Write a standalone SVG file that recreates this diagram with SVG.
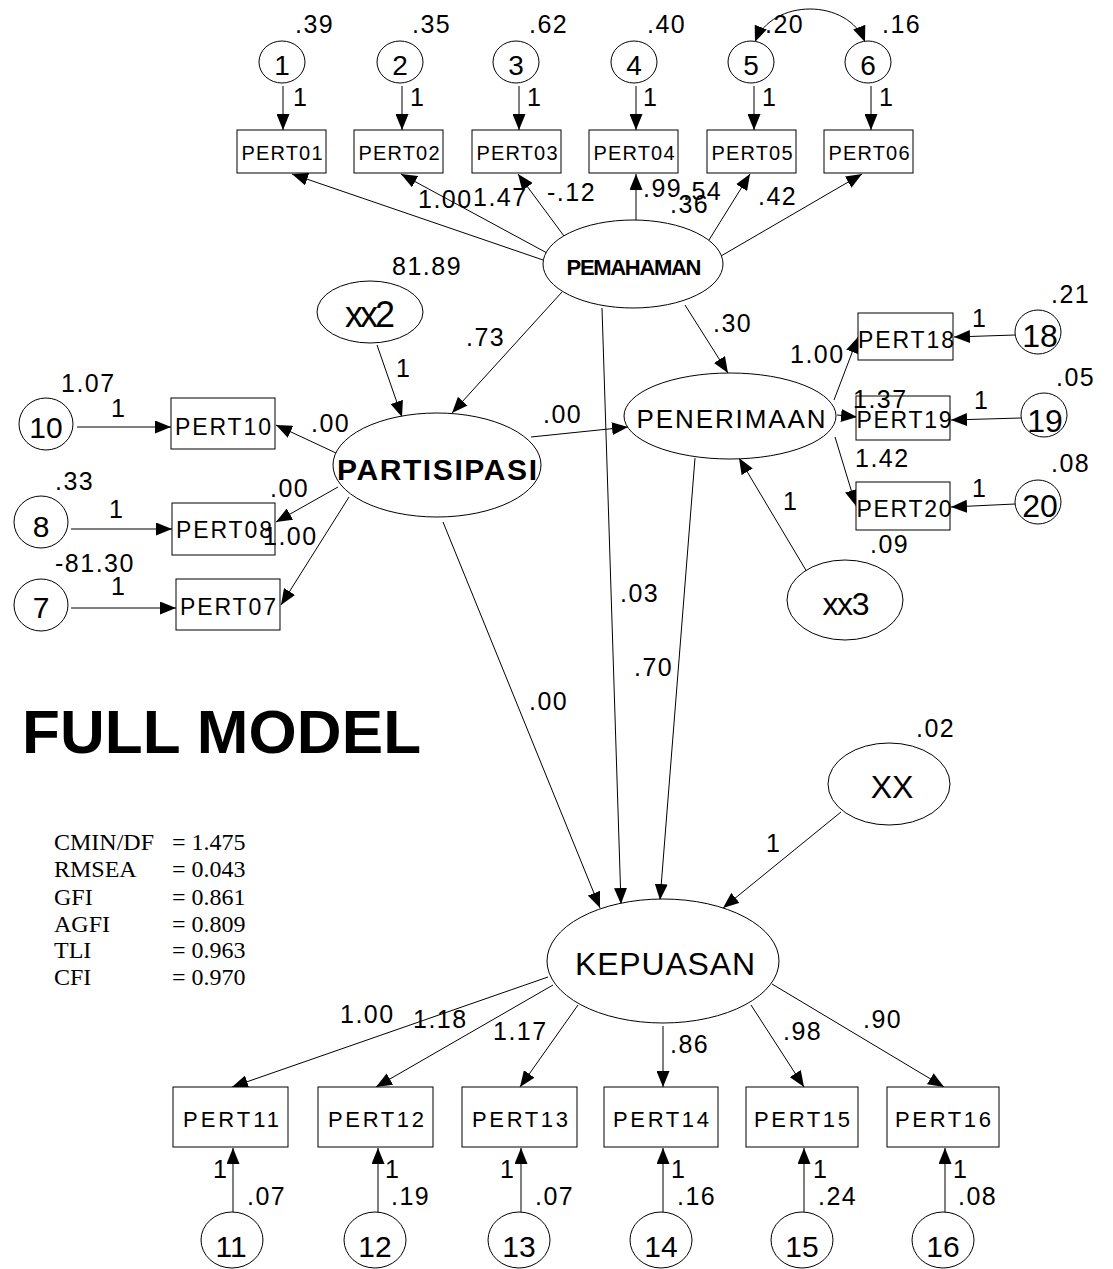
<svg xmlns="http://www.w3.org/2000/svg" width="1113" height="1269" viewBox="0 0 1113 1269">
<defs>
<marker id="ah" markerWidth="16" markerHeight="13" refX="16" refY="6.5" orient="auto" markerUnits="userSpaceOnUse"><path d="M0,0 L16,6.5 L0,13 z" fill="#000"/></marker>
<marker id="ahs" markerWidth="16" markerHeight="13" refX="16" refY="6.5" orient="auto-start-reverse" markerUnits="userSpaceOnUse"><path d="M0,0 L16,6.5 L0,13 z" fill="#000"/></marker>
<style>
.ln{stroke:#000;stroke-width:1;fill:none;marker-end:url(#ah)}
.nd{fill:#fff;stroke:#000;stroke-width:1}
text{font-family:"Liberation Sans",Arial,sans-serif;fill:#000}
.lb{font-size:25px;letter-spacing:1.5px}
.c28{font-size:28px;text-anchor:middle}
.c30{font-size:30px;text-anchor:middle}
.c32{font-size:32px;text-anchor:middle}
.bx20{font-size:20px;text-anchor:middle}
.bx22{font-size:22px;text-anchor:middle}
.bx23{font-size:23px;text-anchor:middle}
.fit{font-family:"Liberation Serif","Times New Roman",serif;font-size:24px}
</style>
</defs>
<rect width="1113" height="1269" fill="#fff"/>

<g id="connectors">
<!-- error terms to top indicators -->
<line class="ln" x1="283" y1="86" x2="283" y2="130"/>
<line class="ln" x1="402" y1="86" x2="402" y2="130"/>
<line class="ln" x1="519" y1="86" x2="519" y2="130"/>
<line class="ln" x1="636" y1="86" x2="636" y2="130"/>
<line class="ln" x1="754" y1="86" x2="754" y2="130"/>
<line class="ln" x1="871" y1="86" x2="871" y2="130"/>
<path d="M755,42 C772,-2 848,-2 865,42" fill="none" stroke="#000" stroke-width="1" marker-start="url(#ahs)" marker-end="url(#ahs)"/>
<!-- PEMAHAMAN loadings -->
<line class="ln" x1="546" y1="261" x2="292" y2="174"/>
<line class="ln" x1="547" y1="253" x2="401" y2="174"/>
<line class="ln" x1="564" y1="236" x2="518" y2="174"/>
<line class="ln" x1="636" y1="220" x2="636" y2="174"/>
<line class="ln" x1="709" y1="240" x2="750" y2="174"/>
<line class="ln" x1="721" y1="256" x2="862" y2="174"/>
<!-- structural -->
<line class="ln" x1="377" y1="345" x2="402" y2="417"/>
<line class="ln" x1="562" y1="292" x2="452" y2="413"/>
<line class="ln" x1="531" y1="437" x2="628" y2="427"/>
<line class="ln" x1="685" y1="305" x2="728" y2="373"/>
<line class="ln" x1="807" y1="572" x2="739" y2="458"/>
<line class="ln" x1="443" y1="522" x2="600" y2="908"/>
<line class="ln" x1="602" y1="308" x2="621" y2="904"/>
<line class="ln" x1="695" y1="458" x2="660" y2="900"/>
<line class="ln" x1="841" y1="812" x2="723" y2="908"/>
<!-- PARTISIPASI loadings -->
<line class="ln" x1="336" y1="453" x2="276" y2="425"/>
<line class="ln" x1="338" y1="487" x2="276" y2="522"/>
<line class="ln" x1="349" y1="497" x2="281" y2="605"/>
<line class="ln" x1="77" y1="427" x2="171" y2="427"/>
<line class="ln" x1="71" y1="529" x2="172" y2="529"/>
<line class="ln" x1="71" y1="608" x2="176" y2="608"/>
<!-- PENERIMAAN loadings -->
<line class="ln" x1="834" y1="400" x2="858" y2="337"/>
<line class="ln" x1="837" y1="415" x2="857" y2="417"/>
<line class="ln" x1="835" y1="437" x2="856" y2="506"/>
<line class="ln" x1="1015" y1="335" x2="954" y2="337"/>
<line class="ln" x1="1021" y1="418" x2="951" y2="420"/>
<line class="ln" x1="1015" y1="504" x2="951" y2="507"/>
<!-- KEPUASAN loadings -->
<line class="ln" x1="548" y1="977" x2="232" y2="1087"/>
<line class="ln" x1="553" y1="985" x2="376" y2="1087"/>
<line class="ln" x1="578" y1="1005" x2="520" y2="1087"/>
<line class="ln" x1="663" y1="1026" x2="663" y2="1087"/>
<line class="ln" x1="751" y1="1005" x2="804" y2="1087"/>
<line class="ln" x1="772" y1="984" x2="944" y2="1087"/>
<line class="ln" x1="233" y1="1212" x2="233" y2="1148"/>
<line class="ln" x1="378" y1="1212" x2="378" y2="1148"/>
<line class="ln" x1="521" y1="1212" x2="521" y2="1148"/>
<line class="ln" x1="663" y1="1212" x2="663" y2="1148"/>
<line class="ln" x1="804" y1="1212" x2="804" y2="1148"/>
<line class="ln" x1="945" y1="1212" x2="945" y2="1148"/>
</g>

<g id="e1"><ellipse class="nd" cx="282" cy="62" rx="23" ry="21"/><text class="c28" x="282" y="75">1</text></g>
<g id="e2"><ellipse class="nd" cx="400" cy="62" rx="23" ry="21"/><text class="c28" x="400" y="75">2</text></g>
<g id="e3"><ellipse class="nd" cx="516" cy="62" rx="23" ry="21"/><text class="c28" x="516" y="75">3</text></g>
<g id="e4"><ellipse class="nd" cx="634" cy="62" rx="23" ry="21"/><text class="c28" x="634" y="75">4</text></g>
<g id="e5"><ellipse class="nd" cx="751" cy="62" rx="23" ry="21"/><text class="c28" x="751" y="75">5</text></g>
<g id="e6"><ellipse class="nd" cx="868" cy="62" rx="23" ry="21"/><text class="c28" x="868" y="75">6</text></g>

<g id="PERT01"><rect class="nd" x="237" y="130" width="89" height="43"/><text class="bx20" x="282" y="160" textLength="81">PERT01</text></g>
<g id="PERT02"><rect class="nd" x="354" y="130" width="89" height="43"/><text class="bx20" x="399" y="160" textLength="81">PERT02</text></g>
<g id="PERT03"><rect class="nd" x="472" y="130" width="89" height="43"/><text class="bx20" x="517" y="160" textLength="81">PERT03</text></g>
<g id="PERT04"><rect class="nd" x="589" y="130" width="89" height="43"/><text class="bx20" x="634" y="160" textLength="81">PERT04</text></g>
<g id="PERT05"><rect class="nd" x="707" y="130" width="89" height="43"/><text class="bx20" x="752" y="160" textLength="81">PERT05</text></g>
<g id="PERT06"><rect class="nd" x="824" y="130" width="89" height="43"/><text class="bx20" x="869" y="160" textLength="81">PERT06</text></g>

<g id="PEMAHAMAN"><ellipse class="nd" cx="633" cy="264" rx="90" ry="44"/><text x="634" y="275" font-size="22" font-weight="bold" text-anchor="middle" textLength="135">PEMAHAMAN</text></g>
<g id="xx2"><ellipse class="nd" cx="370" cy="312" rx="53" ry="31"/><text x="370" y="327" font-size="36" text-anchor="middle" textLength="50">xx2</text></g>
<g id="PARTISIPASI"><ellipse class="nd" cx="437" cy="465" rx="104" ry="52"/><text x="437" y="480" font-size="30" font-weight="bold" text-anchor="middle" textLength="200">PARTISIPASI</text></g>

<g id="e10"><ellipse class="nd" cx="46" cy="424" rx="27" ry="26"/><text class="c30" x="46" y="438">10</text></g>
<g id="e8"><ellipse class="nd" cx="41" cy="522" rx="27" ry="26"/><text class="c30" x="41" y="537">8</text></g>
<g id="e7"><ellipse class="nd" cx="41" cy="605" rx="27" ry="26"/><text class="c30" x="41" y="618">7</text></g>
<g id="PERT10"><rect class="nd" x="171" y="398" width="104" height="51"/><text class="bx23" x="223" y="435" textLength="96">PERT10</text></g>
<g id="PERT08"><rect class="nd" x="172" y="503" width="103" height="52"/><text class="bx23" x="224" y="538" textLength="96">PERT08</text></g>
<g id="PERT07"><rect class="nd" x="176" y="579" width="104" height="51"/><text class="bx23" x="228" y="615" textLength="96">PERT07</text></g>

<g id="PENERIMAAN"><ellipse class="nd" cx="730" cy="416" rx="106" ry="43"/><text x="731" y="428" font-size="26" text-anchor="middle" textLength="189">PENERIMAAN</text></g>
<g id="PERT18"><rect class="nd" x="858" y="313" width="95" height="47"/><text class="bx23" x="906" y="348" textLength="96">PERT18</text></g>
<g id="PERT19"><rect class="nd" x="856" y="396" width="94" height="44"/><text class="bx23" x="904" y="428" textLength="95">PERT19</text></g>
<g id="PERT20"><rect class="nd" x="856" y="482" width="94" height="48"/><text class="bx23" x="904" y="517" textLength="95">PERT20</text></g>
<g id="e18"><ellipse class="nd" cx="1038" cy="332" rx="23" ry="22"/><text class="c32" x="1040" y="347">18</text></g>
<g id="e19"><ellipse class="nd" cx="1044" cy="415" rx="23" ry="22"/><text class="c32" x="1045" y="432">19</text></g>
<g id="e20"><ellipse class="nd" cx="1038" cy="502" rx="23" ry="22"/><text class="c32" x="1040" y="517">20</text></g>
<g id="xx3"><ellipse class="nd" cx="845" cy="600" rx="58" ry="40"/><text x="846" y="615" font-size="32" text-anchor="middle" textLength="47">xx3</text></g>

<g id="XX"><ellipse class="nd" cx="889" cy="784" rx="61" ry="41"/><text x="892" y="798" font-size="32" text-anchor="middle">XX</text></g>
<g id="KEPUASAN"><ellipse class="nd" cx="663" cy="961" rx="116" ry="62"/><text x="665" y="975" font-size="32" text-anchor="middle" textLength="180">KEPUASAN</text></g>

<g id="PERT11"><rect class="nd" x="173" y="1087" width="115" height="60"/><text class="bx22" x="231" y="1127" textLength="96">PERT11</text></g>
<g id="PERT12"><rect class="nd" x="318" y="1087" width="115" height="60"/><text class="bx22" x="376" y="1127" textLength="96">PERT12</text></g>
<g id="PERT13"><rect class="nd" x="462" y="1087" width="115" height="60"/><text class="bx22" x="520" y="1127" textLength="96">PERT13</text></g>
<g id="PERT14"><rect class="nd" x="604" y="1087" width="114" height="60"/><text class="bx22" x="661" y="1127" textLength="96">PERT14</text></g>
<g id="PERT15"><rect class="nd" x="746" y="1087" width="112" height="60"/><text class="bx22" x="802" y="1127" textLength="96">PERT15</text></g>
<g id="PERT16"><rect class="nd" x="887" y="1087" width="112" height="60"/><text class="bx22" x="943" y="1127" textLength="96">PERT16</text></g>
<g id="e11"><ellipse class="nd" cx="232" cy="1240" rx="31" ry="28"/><text class="c30" x="231" y="1257">11</text></g>
<g id="e12"><ellipse class="nd" cx="375" cy="1240" rx="31" ry="28"/><text class="c30" x="375" y="1257">12</text></g>
<g id="e13"><ellipse class="nd" cx="519" cy="1240" rx="31" ry="28"/><text class="c30" x="519" y="1257">13</text></g>
<g id="e14"><ellipse class="nd" cx="661" cy="1240" rx="31" ry="28"/><text class="c30" x="661" y="1257">14</text></g>
<g id="e15"><ellipse class="nd" cx="802" cy="1240" rx="31" ry="28"/><text class="c30" x="802" y="1257">15</text></g>
<g id="e16"><ellipse class="nd" cx="943" cy="1240" rx="31" ry="28"/><text class="c30" x="943" y="1257">16</text></g>

<g id="labels" class="lb">
<text class="lb" x="295" y="33">.39</text>
<text class="lb" x="412" y="33">.35</text>
<text class="lb" x="529" y="33">.62</text>
<text class="lb" x="647" y="33">.40</text>
<text class="lb" x="765" y="33">.20</text>
<text class="lb" x="882" y="33">.16</text>
<text class="lb" x="293" y="106">1</text>
<text class="lb" x="410" y="106">1</text>
<text class="lb" x="527" y="106">1</text>
<text class="lb" x="643" y="106">1</text>
<text class="lb" x="762" y="106">1</text>
<text class="lb" x="879" y="106">1</text>
<text class="lb" x="418" y="208">1.00</text>
<text class="lb" x="473" y="206">1.47</text>
<text class="lb" x="547" y="201">-.12</text>
<text class="lb" x="643" y="197">.99</text>
<text class="lb" x="683" y="200">.54</text>
<text class="lb" x="670" y="213">.36</text>
<text class="lb" x="758" y="205">.42</text>
<text class="lb" x="392" y="275">81.89</text>
<text class="lb" x="466" y="346">.73</text>
<text class="lb" x="396" y="377">1</text>
<text class="lb" x="713" y="332">.30</text>
<text class="lb" x="61" y="392">1.07</text>
<text class="lb" x="111" y="417">1</text>
<text class="lb" x="311" y="432">.00</text>
<text class="lb" x="55" y="490">.33</text>
<text class="lb" x="109" y="518">1</text>
<text class="lb" x="270" y="497">.00</text>
<text class="lb" x="263" y="545">1.00</text>
<text class="lb" x="55" y="572">-81.30</text>
<text class="lb" x="111" y="595">1</text>
<text class="lb" x="543" y="423">.00</text>
<text class="lb" x="1051" y="303">.21</text>
<text class="lb" x="972" y="327">1</text>
<text class="lb" x="790" y="363">1.00</text>
<text class="lb" x="1056" y="386">.05</text>
<text class="lb" x="974" y="409">1</text>
<text class="lb" x="853" y="408">1.37</text>
<text class="lb" x="855" y="467">1.42</text>
<text class="lb" x="1051" y="472">.08</text>
<text class="lb" x="972" y="497">1</text>
<text class="lb" x="870" y="553">.09</text>
<text class="lb" x="783" y="510">1</text>
<text class="lb" x="620" y="602">.03</text>
<text class="lb" x="634" y="676">.70</text>
<text class="lb" x="529" y="710">.00</text>
<text class="lb" x="916" y="737">.02</text>
<text class="lb" x="766" y="852">1</text>
<text class="lb" x="340" y="1023">1.00</text>
<text class="lb" x="413" y="1028">1.18</text>
<text class="lb" x="493" y="1040">1.17</text>
<text class="lb" x="670" y="1053">.86</text>
<text class="lb" x="783" y="1040">.98</text>
<text class="lb" x="863" y="1028">.90</text>
<text class="lb" x="213" y="1178">1</text>
<text class="lb" x="385" y="1178">1</text>
<text class="lb" x="500" y="1178">1</text>
<text class="lb" x="671" y="1178">1</text>
<text class="lb" x="813" y="1178">1</text>
<text class="lb" x="953" y="1178">1</text>
<text class="lb" x="247" y="1205">.07</text>
<text class="lb" x="391" y="1205">.19</text>
<text class="lb" x="535" y="1205">.07</text>
<text class="lb" x="677" y="1205">.16</text>
<text class="lb" x="818" y="1205">.24</text>
<text class="lb" x="958" y="1205">.08</text>
</g>

<g id="title"><text x="22" y="753" font-size="62" font-weight="bold" textLength="399">FULL MODEL</text></g>

<g id="fit" class="fit">
<text class="fit" x="54" y="850">CMIN/DF</text><text class="fit" x="172" y="850">= 1.475</text>
<text class="fit" x="54" y="877">RMSEA</text><text class="fit" x="172" y="877">= 0.043</text>
<text class="fit" x="54" y="905">GFI</text><text class="fit" x="172" y="905">=  0.861</text>
<text class="fit" x="54" y="932">AGFI</text><text class="fit" x="172" y="932">=  0.809</text>
<text class="fit" x="54" y="958">TLI</text><text class="fit" x="172" y="958">=  0.963</text>
<text class="fit" x="54" y="985">CFI</text><text class="fit" x="172" y="985">=  0.970</text>
</g>
</svg>
